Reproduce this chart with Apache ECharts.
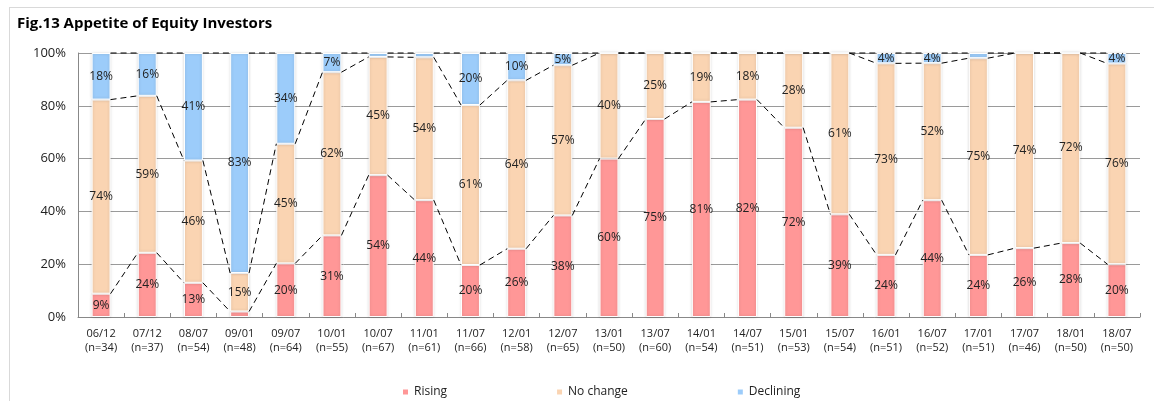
<!DOCTYPE html>
<html>
<head>
<meta charset="utf-8">
<script src="https://cdn.jsdelivr.net/npm/echarts@6/dist/echarts.min.js"></script>
<style>
  html, body { margin: 0; padding: 0; background: #fff; }
  #frame { position: absolute; left: 9px; top: 7px; width: 1160px; height: 410px; border: 1px solid #d9d9d9; box-sizing: border-box; }
  #chart { width: 1154px; height: 401px; }
</style>
</head>
<body>
<div id="frame"></div>
<div id="chart"></div>
<script>
// survey dates and sample size
const periods = ['06/12', '07/12', '08/07', '09/01', '09/07', '10/01', '10/07', '11/01', '11/07', '12/01', '12/07', '13/01',
                 '13/07', '14/01', '14/07', '15/01', '15/07', '16/01', '16/07', '17/01', '17/07', '18/01', '18/07'];
const sampleN = [34, 37, 54, 48, 64, 55, 67, 61, 66, 58, 65, 50, 60, 54, 51, 53, 54, 51, 52, 51, 46, 50, 50];

// share of answers (%)
const rising = [8.82, 24.32, 12.96, 2.08, 20.31, 30.91, 53.73, 44.26, 19.70, 25.86, 38.46, 60.0,
                75.0, 81.48, 82.35, 71.70, 38.89, 23.53, 44.23, 23.53, 26.09, 28.0, 20.0];
const noChange = [73.53, 59.46, 46.30, 14.58, 45.31, 61.82, 44.78, 54.10, 60.61, 63.79, 56.92, 40.0,
                  25.0, 18.52, 17.65, 28.30, 61.11, 72.55, 51.92, 74.51, 73.91, 72.0, 76.0];
const declining = [17.65, 16.22, 40.74, 83.33, 34.38, 7.27, 1.49, 1.64, 19.70, 10.34, 4.62, 0,
                   0, 0, 0, 0, 0, 3.92, 3.85, 1.96, 0, 0, 4.0];

const yTicks = [0, 20, 40, 60, 80, 100];

const BAR_FRAC = 0.41;
const fontFam = '"Open Sans", "Noto Sans", sans-serif';

// cumulative tops for the excel style series lines
const topRising = rising.slice();
const topNoChange = rising.map((v, i) => v + noChange[i]);
const topAll = rising.map((v, i) => v + noChange[i] + declining[i]);

function linkData(tops) {
  const out = [];
  for (let i = 0; i < tops.length - 1; i++) out.push([i, tops[i], tops[i + 1]]);
  return out;
}

function renderLink(params, api) {
  const i = api.value(0);
  const p0 = api.coord([i, api.value(1)]);
  const p1 = api.coord([i + 1, api.value(2)]);
  const half = api.size([1, 0])[0] * BAR_FRAC / 2;
  return {
    type: 'line',
    shape: { x1: p0[0] + half, y1: p0[1], x2: p1[0] - half, y2: p1[1] },
    style: { stroke: '#000', lineWidth: 1, lineDash: [6, 4] }
  };
}

const labelCfg = {
  show: true,
  position: 'inside',
  color: '#222',
  fontSize: 12,
  fontFamily: fontFam,
  formatter: p => (p.value < 3 ? '' : Math.round(p.value) + '%')
};

function barSeries(name, data, color) {
  return {
    name: name,
    type: 'bar',
    stack: 'share',
    barWidth: (BAR_FRAC * 100) + '%',
    data: data,
    itemStyle: { color: color, borderColor: '#fff', borderWidth: 1, shadowColor: 'rgba(0,0,0,0.18)', shadowBlur: 3 },
    label: labelCfg,
    z: 2
  };
}

function linkSeries(tops) {
  return {
    type: 'custom',
    renderItem: renderLink,
    data: linkData(tops),
    encode: { x: 0, y: 1 },
    silent: true,
    z: 5
  };
}

const chart = echarts.init(document.getElementById('chart'));
chart.setOption({
  animation: false,
  textStyle: { fontFamily: fontFam },
  title: {
    text: 'Fig.13 Appetite of Equity Investors',
    left: 12, top: 11,
    textStyle: { fontSize: 15, fontWeight: 'bold', color: '#000', fontFamily: fontFam }
  },
  legend: {
    top: 381,
    left: 396,
    itemGap: 108,
    itemWidth: 7, itemHeight: 7,
    icon: 'rect',
    textStyle: { fontSize: 12, color: '#222' },
    data: ['Rising', 'No change', 'Declining']
  },
  grid: { left: 78, right: 14, top: 53, bottom: 84 },
  xAxis: {
    type: 'category',
    data: periods,
    axisLine: { lineStyle: { color: '#888' } },
    axisTick: { show: true, inside: true, length: 4, lineStyle: { color: '#888' } },
    axisLabel: {
      interval: 0, color: '#222', fontSize: 11, lineHeight: 14, margin: 10,
      formatter: (v, i) => v + '\n(n=' + sampleN[i] + ')'
    }
  },
  yAxis: {
    type: 'value',
    min: yTicks[0], max: yTicks[yTicks.length - 1], interval: 20,
    axisLine: { show: true, lineStyle: { color: '#888' } },
    axisLabel: { color: '#222', fontSize: 13, margin: 12, formatter: '{value}%' },
    splitLine: { lineStyle: { color: '#9a9a9a' } }
  },
  series: [
    barSeries('Rising', rising, '#FF9797'),
    barSeries('No change', noChange, '#FAD4B2'),
    barSeries('Declining', declining, '#9CCCFA'),
    linkSeries(topRising),
    linkSeries(topNoChange),
    linkSeries(topAll)
  ]
});
</script>
</body>
</html>
